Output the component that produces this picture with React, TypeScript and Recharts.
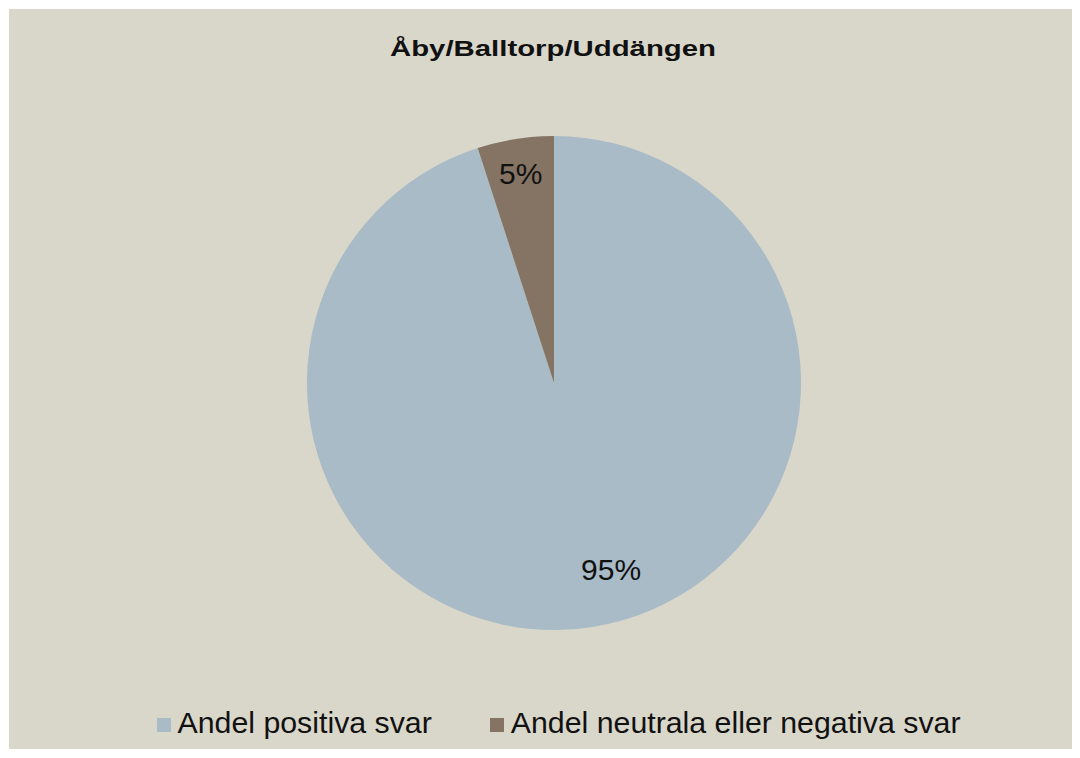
import React from 'react';
import { PieChart, Pie, Cell, Legend } from 'recharts';

const categories = ['Andel positiva svar', 'Andel neutrala eller negativa svar'];
const shares = [95, 5];
const colors = ['#a8bbc6', '#857464'];
const chartTitle = 'Åby/Balltorp/Uddängen';

const data = categories.map((name, i) => ({ name, value: shares[i] }));

const RADIAN = Math.PI / 180;
// label placement inside each slice, relative to the outer radius
const labelRadius = [0.79, 0.86];
const labelAngleShift = [8, 0];

const renderLabel = (props: any) => {
  const { cx, cy, midAngle, outerRadius, index, value } = props;
  const r = outerRadius * labelRadius[index];
  const a = (midAngle + labelAngleShift[index]) * RADIAN;
  const x = cx + r * Math.cos(-a);
  const y = cy + r * Math.sin(-a);
  return (
    <text
      x={x}
      y={y}
      fill="#111"
      fontSize={30}
      fontFamily="'Liberation Sans', Arial, sans-serif"
      textAnchor="middle"
      dominantBaseline="central"
    >
      {value}%
    </text>
  );
};

const renderLegend = () => (
  <div style={{ display: 'flex', justifyContent: 'center', gap: 58, paddingLeft: 28, fontFamily: "'Liberation Sans', Arial, sans-serif", fontSize: 30.3, color: '#111' }}>
    {data.map((d, i) => (
      <div key={d.name} style={{ display: 'flex', alignItems: 'center' }}>
        <span style={{ display: 'inline-block', width: 14, height: 14, background: colors[i], marginRight: 7, marginTop: 4 }} />
        <span>{d.name}</span>
      </div>
    ))}
  </div>
);

export default function App() {
  return (
    <div style={{ position: 'relative', width: 1071, height: 740, marginTop: 1, marginLeft: 1, background: '#d9d6ca' }}>
      <svg width={1071} height={70} style={{ position: 'absolute', top: 0, left: 0, zIndex: 1 }}>
        <text
          x={544}
          y={47}
          textAnchor="middle"
          fontFamily="'Liberation Sans', Arial, sans-serif"
          fontWeight="bold"
          fontSize={22}
          fill="#111"
          textLength={326}
          lengthAdjust="spacingAndGlyphs"
        >
          {chartTitle}
        </text>
      </svg>
      <PieChart width={1071} height={740}>
        <Pie
          data={data}
          dataKey="value"
          nameKey="name"
          cx={540}
          cy={369}
          outerRadius={247}
          startAngle={90}
          endAngle={-270}
          stroke="none"
          label={renderLabel}
          labelLine={false}
          isAnimationActive={false}
        >
          {data.map((d, i) => (
            <Cell key={d.name} fill={colors[i]} />
          ))}
        </Pie>
        <Legend
          verticalAlign="bottom"
          align="center"
          content={renderLegend}
          wrapperStyle={{ bottom: 9 }}
        />
      </PieChart>
    </div>
  );
}
